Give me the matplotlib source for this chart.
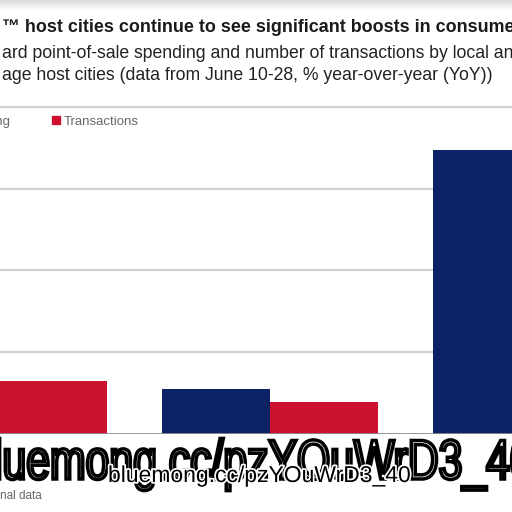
import numpy as np
import matplotlib
matplotlib.use("Agg")
import matplotlib.pyplot as plt
import matplotlib.patheffects as pe
from matplotlib.patches import Patch, PathPatch
from matplotlib.textpath import TextPath
from matplotlib.font_manager import FontProperties
from matplotlib.transforms import Affine2D, IdentityTransform

plt.rcParams['font.family'] = ['Liberation Sans', 'DejaVu Sans']

# values (% YoY); first spending bar and last
# transactions bar fall outside the crop, rough guesses
groups = [0, 1, 2]
spending = [4.0, 2.75, 17.35]
transactions = [3.2, 1.9, 6.0]
yticks = [5, 10, 15, 20]

title = "\u2122 host cities continue to see significant boosts in consumer spending"
sub1 = "ard point-of-sale spending and number of transactions by local and"
sub2 = "age host cities (data from June 10-28, % year-over-year (YoY))"
watermark = "bluemong.cc/pzYOuWrD3_40"

blue = '#0b2265'
red = '#cc1230'

fig = plt.figure(figsize=(5.12, 5.12), dpi=100)

# faint gray band at the very top
band = fig.add_axes([0, 1 - 11 / 512, 1, 11 / 512])
band.imshow(np.linspace(0.86, 1.0, 20).reshape(-1, 1), cmap='gray',
            aspect='auto', vmin=0, vmax=1, extent=[0, 1, 0, 1])
band.axis('off')

# main axes, wider than the figure so it looks cropped
ax = fig.add_axes([-136.5 / 512, 78.5 / 512, 813 / 512, 326.5 / 512])
x = np.array(groups)
w = 0.4
ax.bar(x - w / 2, spending, width=w, color=blue, zorder=3)
ax.bar(x + w / 2, transactions, width=w, color=red, zorder=3)
ax.set_xlim(-0.5, 2.5)
ax.set_ylim(0, 20)
for t in yticks:
    ax.axhline(t, color='#cfcfcf', lw=1.6, zorder=1, clip_on=False)
ax.axhline(0, color='#8c8c8c', lw=2, zorder=4)
for s in ax.spines.values():
    s.set_visible(False)
ax.set_xticks([])
ax.set_yticks([])

handles = [Patch(color=blue, label='Spending'), Patch(color=red, label='Transactions')]
leg = ax.legend(handles=handles, ncol=2, frameon=False, loc='center left',
                bbox_to_anchor=(-57 / 512, 1 - 122 / 512), bbox_transform=fig.transFigure,
                fontsize=9.5, handlelength=0.55, handleheight=0.55, handletextpad=0.3,
                columnspacing=3.2, borderaxespad=0, borderpad=0)
for t in leg.get_texts():
    t.set_color('#666666')

fig.text(2 / 512, 1 - 28 / 512, title, fontsize=12.9, fontweight='bold',
         color='#1a1a1a', va='center', ha='left')
fig.text(2 / 512, 1 - 53 / 512, sub1, fontsize=12.7, color='#222222', va='center')
fig.text(2 / 512, 1 - 76 / 512, sub2, fontsize=12.7, color='#222222', va='center')
fig.text(0, 1 - 496 / 512, "nal data", fontsize=8.5, color='#666666', va='center')

# watermark overlay: big condensed outlined text, then a smaller one on top
tp = TextPath((0, 0), watermark, size=56, prop=FontProperties(family='Liberation Sans'))
ext = tp.get_extents()
sx = 560 / ext.width
big = PathPatch(tp, facecolor='white', edgecolor='black', lw=2.5,
                transform=Affine2D().translate(-ext.x0, 0).scale(sx, 1.0)
                .translate(-28, 512 - 479) + IdentityTransform())
fig.add_artist(big)
fig.text(108 / 512, 1 - 482 / 512, watermark, fontsize=16.5, color='black', va='baseline',
         path_effects=[pe.withStroke(linewidth=2.5, foreground='white')])

fig.savefig("out.png", dpi=100)
